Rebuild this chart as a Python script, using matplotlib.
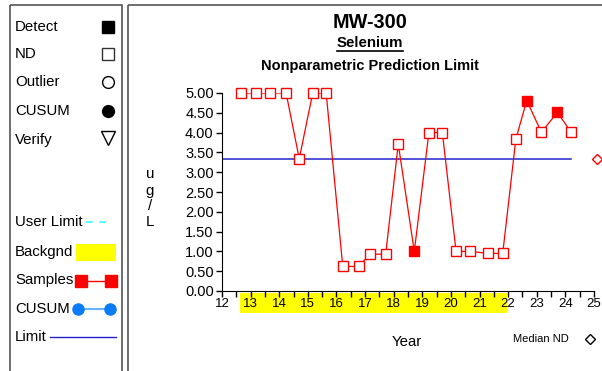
import matplotlib
matplotlib.use("Agg")
import matplotlib.pyplot as plt
from matplotlib.patches import Rectangle
import matplotlib.transforms as mtransforms

plt.rcParams['font.family'] = ['Liberation Sans', 'DejaVu Sans']

# ---- data ----
years = [12.67, 13.19, 13.69, 14.24, 14.70, 15.17, 15.64, 16.22, 16.78, 17.17, 17.72,
         18.16, 18.72, 19.23, 19.70, 20.18, 20.67, 21.28, 21.81, 22.27, 22.65, 23.16,
         23.72, 24.20]
values = [5.0, 5.0, 5.0, 5.0, 3.34, 5.0, 5.0, 0.62, 0.62, 0.93, 0.93,
          3.71, 1.0, 4.0, 4.0, 1.0, 1.0, 0.95, 0.95, 3.84, 4.81, 4.01,
          4.51, 4.01]
detect = [0, 0, 0, 0, 0, 0, 0, 0, 0, 0, 0,
          0, 1, 0, 0, 0, 0, 0, 0, 0, 1, 0,
          1, 0]
limit_value = 3.34
limit_range = [12.0, 24.2]
background_range = [12.63, 21.97]
median_nd = (25.1, 3.34)
xticks = list(range(12, 26))
yticks = [0.0, 0.5, 1.0, 1.5, 2.0, 2.5, 3.0, 3.5, 4.0, 4.5, 5.0]

W, H = 602, 371
fig = plt.figure(figsize=(W / 100, H / 100), dpi=100)

# overlay in pixel coordinates for frames / legend
ov = fig.add_axes([0, 0, 1, 1])
ov.set_xlim(0, W)
ov.set_ylim(H, 0)
ov.axis('off')
frame_c = '#555555'
ov.add_patch(Rectangle((9.5, 4.5), 112, 372, fill=False, ec=frame_c, lw=1.2))
ov.add_patch(Rectangle((127.5, 4.5), 480, 372, fill=False, ec=frame_c, lw=1.2))

lfs = 10.8
leg = [("Detect", 27), ("ND", 54), ("Outlier", 82), ("CUSUM", 111), ("Verify", 140)]
for t, y in leg:
    ov.text(15, y, t, fontsize=lfs, va='center', ha='left')
ms = 8.5
ov.plot([108], [27], 's', color='black', ms=ms)
ov.plot([108], [54], 's', mfc='white', mec='#333333', ms=ms, mew=1)
ov.plot([108], [82], 'o', mfc='white', mec='black', ms=ms, mew=1)
ov.plot([108], [111], 'o', color='black', ms=ms)
ov.plot([108], [138], 'v', mfc='white', mec='black', ms=ms + 1, mew=1)

ov.text(15, 222, "User Limit", fontsize=lfs, va='center', ha='left')
ov.plot([86, 112], [222, 222], color='#33ffff', lw=1.2, ls=(0, (4, 4)))
ov.text(15, 252, "Backgnd", fontsize=lfs, va='center', ha='left')
ov.add_patch(Rectangle((76, 244), 40, 17, color='#ffff00', lw=0))
ov.text(15, 280, "Samples", fontsize=lfs, va='center', ha='left')
ov.plot([81, 111], [281, 281], '-', color='red', lw=1)
ov.plot([81, 111], [281, 281], 's', color='red', ms=8, lw=0)
ov.text(15, 309, "CUSUM", fontsize=lfs, va='center', ha='left')
ov.plot([78, 110], [309, 309], '-', color='#66b3ff', lw=1.5)
ov.plot([78, 110], [309, 309], 'o', color='#0a7cf5', ms=8, lw=0)
ov.text(15, 337, "Limit", fontsize=lfs, va='center', ha='left')
ov.plot([50, 116], [337, 337], '-', color='#2222cc', lw=1)

# titles
ov.text(370, 22, "MW-300", fontsize=14.3, fontweight='bold', ha='center', va='center')
ov.text(370, 43, "Selenium", fontsize=10.8, fontweight='bold', ha='center', va='center')
ov.plot([337, 403], [51, 51], color='black', lw=1.2)
ov.text(370, 66, "Nonparametric Prediction Limit", fontsize=10.5, fontweight='bold',
        ha='center', va='center')
for ch, y in zip("ug/L", [174, 191, 206, 222]):
    ov.text(150, y, ch, fontsize=10.8, ha='center', va='center')
ov.text(407, 342, "Year", fontsize=10.8, ha='center', va='center')
ov.text(541, 339, "Median ND", fontsize=8, ha='center', va='center')
ov.plot([590], [339], 'D', mfc='white', mec='black', ms=5.5, mew=1)

# main axes
ax = fig.add_axes([222 / W, 1 - 291 / H, (594 - 222) / W, (291 - 93) / H])
ax.set_facecolor('none')
ax.set_xlim(12, 25)
ax.set_ylim(0, 5)
for s in ['top', 'right']:
    ax.spines[s].set_visible(False)
ax.set_xticks(xticks)
ax.set_xticks([x + 0.5 for x in xticks[:-1]], minor=True)
ax.set_yticks(yticks)
ax.set_yticklabels([f"{v:.2f}" for v in yticks])
ax.tick_params(axis='y', labelsize=10.5, direction='out', length=4, width=1, pad=2)
ax.tick_params(axis='x', which='both', labelsize=9.5, direction='out', length=4, width=1, pad=1)

trans = mtransforms.blended_transform_factory(ax.transData, ax.transAxes)
ax.add_patch(Rectangle((background_range[0], -0.112), background_range[1] - background_range[0],
                       0.102, transform=trans, color='#ffff00', lw=0, clip_on=False, zorder=0))

ax.plot(limit_range, [limit_value, limit_value], color='#2222cc', lw=1.1, zorder=2)
ax.plot(years, values, '-', color='red', lw=0.9, zorder=3)
ox = [x for x, d in zip(years, detect) if not d]
oy = [v for v, d in zip(values, detect) if not d]
fx = [x for x, d in zip(years, detect) if d]
fy = [v for v, d in zip(values, detect) if d]
ax.plot(ox, oy, 's', mfc='white', mec='red', ms=7, mew=1, zorder=4, clip_on=False)
ax.plot(fx, fy, 's', color='red', ms=7, zorder=4, clip_on=False)
ax.plot([median_nd[0]], [median_nd[1]], 'D', mfc='white', mec='red', ms=5.5, mew=1,
        clip_on=False, zorder=4)

fig.savefig("out.png", dpi=100)
